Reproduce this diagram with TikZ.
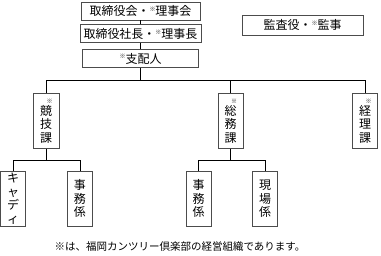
\documentclass[tikz,border=0pt]{standalone}
\usepackage{fontspec}
\setmainfont{Noto Sans CJK JP}
\usetikzlibrary{positioning}
\tikzset{
  box/.style  = {draw=black!70, line width=0.8pt, rectangle, inner sep=0pt,
                 align=center},
  hbox/.style = {box, minimum height=18pt, font=\fontsize{12}{13}\selectfont},
  vbox/.style = {box, minimum width=25pt, minimum height=55pt, anchor=north,
                 font=\fontsize{12}{13.5}\selectfont},
  link/.style = {line width=0.6pt},
}
\newcommand{\komeh}{\raisebox{0.35em}{\fontsize{6}{6}\selectfont ※}}
\newcommand{\komev}{\makebox[1.1em][r]{\fontsize{6}{6}\selectfont ※}\\[-1.5pt]}

\begin{document}
\begin{tikzpicture}[x=1pt, y=1pt, node distance=4pt]
\useasboundingbox (0,0) rectangle (381,256);
% ---- top management ----
\node[hbox, minimum width=119pt] (board) at (140.5,245) {取締役会・\komeh 理事会};
\node[hbox, minimum width=121pt, below=of board] (pres) {取締役社長・\komeh 理事長};
\node[hbox, minimum width=116pt, below=6pt of pres] (mgr) {\komeh 支配人};
\node[box, minimum width=121pt, minimum height=20pt,
      font=\fontsize{12}{13}\selectfont] (audit) at (302.5,231) {監査役・\komeh 監事};

% ---- sections ----
\coordinate (bus) at (0,176);
\node[vbox, minimum width=26pt] (race) at (46,163) {\komev 競\\技\\課};
\node[vbox] (gen) at (230.5,163) {\komev 総\\務\\課};
\node[vbox] (acct) at (365,163) {\komev 経\\理\\課};

% ---- sub-sections ----
\coordinate (subbus) at (0,96);
\node[vbox] (caddie) at (13,85) {キ\\ャ\\デ\\ィ};
\node[vbox] (office) at (80,85) {事\\務\\係};
\node[vbox] (office2) at (198.5,85) {事\\務\\係};
\node[vbox] (field) at (265,85) {現\\場\\係};

\draw[link] (board) -- (pres);
\draw[link] (pres) -- (mgr);
\draw[link] (mgr) -- (mgr |- bus);
\draw[link] (race) -- (race |- bus) -| (acct);
\draw[link] (gen) -- (gen |- bus);
\draw[link] (race) -- (race |- subbus);
\draw[link] (caddie) -- (caddie |- subbus) -| (office);
\draw[link] (gen) -- (gen |- subbus);
\draw[link] (office2) -- (office2 |- subbus) -| (field);

\node[font=\fontsize{10.5}{12}\selectfont] (note) at (180,9)
  {※は、福岡カンツリー倶楽部の経営組織であります。};
\end{tikzpicture}
\end{document}
